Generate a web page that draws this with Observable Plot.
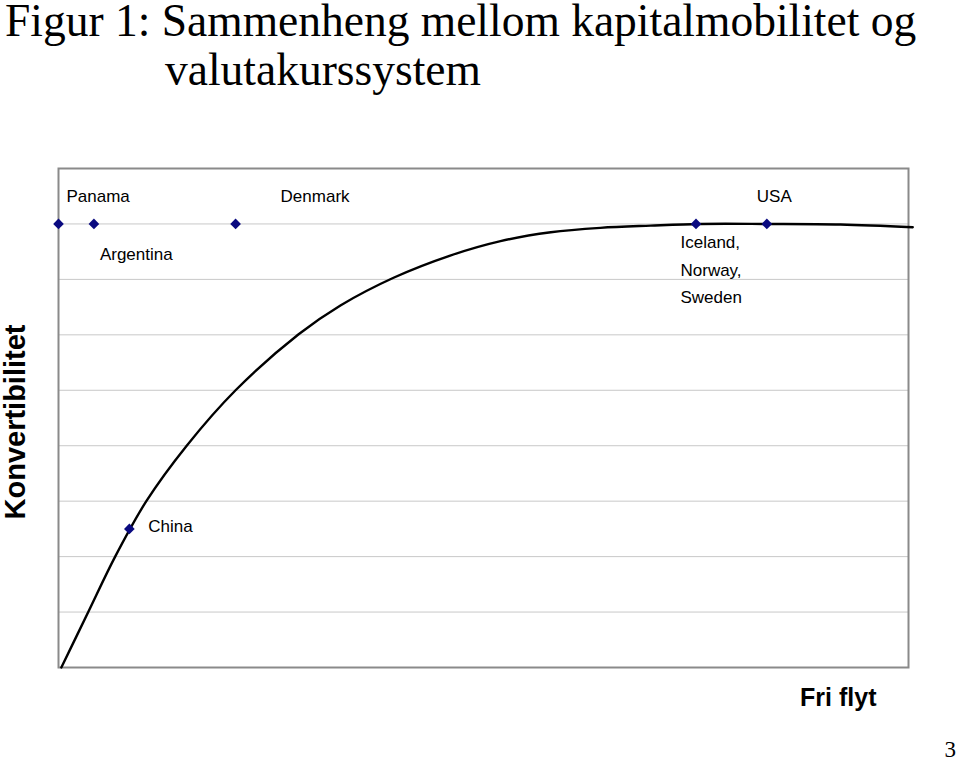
<!DOCTYPE html>
<html>
<head>
<meta charset="utf-8">
<script src="https://cdn.jsdelivr.net/npm/d3@7"></script>
<script src="https://cdn.jsdelivr.net/npm/@observablehq/plot@0.6"></script>
<style>
  html, body { margin: 0; padding: 0; background: #fff; }
  #page { position: relative; width: 960px; height: 762px; overflow: hidden; }
  #title { position: relative; height: 110px; font-family: "Liberation Serif", "Times New Roman", serif; font-size: 45.5px; color: #000; }
  #title .l1 { position: absolute; left: 5px; top: 1px; white-space: nowrap; line-height: 40px; }
  #title .l2 { position: absolute; left: 165px; top: 50px; white-space: nowrap; line-height: 40px; }
  #pagenum { position: absolute; right: 4px; bottom: 0px; font-family: "Liberation Serif", "Times New Roman", serif; font-size: 23px; line-height: 24px; }
  #chart svg { display: block; }
</style>
</head>
<body>
<div id="page">
  <div id="title"><div class="l1">Figur 1: Sammenheng mellom kapitalmobilitet og</div><div class="l2">valutakurssystem</div></div>
  <div id="chart"></div>
  <div id="pagenum">3</div>
</div>
<script>
// Countries (points)
const countries = ["Panama", "Argentina", "Denmark", "Iceland, Norway, Sweden", "USA", "China"];
const countryX = [0, 0.5, 2.5, 9, 10, 1];
const countryY = [8, 8, 8, 8, 8, 2.5];
const countryLabels = ["Panama", "Argentina", "Denmark", "Iceland,\nNorway,\nSweden", "USA", "China"];

// Hand-drawn curve
const curveX = [0.04, 0.42, 0.80, 1.24, 1.81, 2.50, 3.39, 3.98, 4.73, 5.53, 6.24, 6.95, 7.65, 8.36, 9.06, 10.0, 11.04, 12.06];
const curveY = [0, 1.0, 2.0, 3.0, 4.0, 5.0, 6.01, 6.53, 7.03, 7.43, 7.69, 7.85, 7.93, 7.97, 8.0, 8.0, 7.99, 7.94];

// Gridlines
const yTicks = [1, 2, 3, 4, 5, 6, 7, 8];
const xDomain = [0, 12];
const yDomain = [0, 9];

const xLabel = "Fri flyt";
const yLabel = "Konvertibilitet";

// label offsets (layout, in px)
const labelOffsets = [
  {dx: 8, dy: -31},
  {dx: 6, dy: 27},
  {dx: 45, dy: -31},
  {dx: -15.5, dy: 43},
  {dx: -10, dy: -31},
  {dx: 19, dy: -6}
];

const points = countries.map((c, i) => ({country: c, x: countryX[i], y: countryY[i], label: countryLabels[i]}));
const curve = curveX.map((x, i) => ({x, y: curveY[i]}));

const font = "'Liberation Sans', Arial, sans-serif";

const labelMarks = points.map((p, i) => Plot.text([p], {
  x: "x", y: "y", text: "label",
  dx: labelOffsets[i].dx, dy: labelOffsets[i].dy,
  textAnchor: "start", lineAnchor: "middle", lineHeight: 1.62,
  fontSize: 17, fill: "#000"
}));

const chart = Plot.plot({
  width: 960,
  height: 652,
  marginTop: 58,
  marginBottom: 95,
  marginLeft: 58,
  marginRight: 52,
  style: {fontFamily: font, background: "#fff", overflow: "visible"},
  x: {domain: xDomain, axis: null},
  y: {domain: yDomain, axis: null},
  marks: [
    Plot.ruleY(yTicks, {stroke: "#c8c8c8", strokeWidth: 1}),
    Plot.frame({stroke: "#8a8a8a", strokeWidth: 2}),
    Plot.line(curve, {x: "x", y: "y", curve: "catmull-rom", stroke: "#000", strokeWidth: 2.4}),
    Plot.dot(points, {x: "x", y: "y", symbol: "diamond2", r: 4.8, fill: "#0a0a80", stroke: "none"}),
    ...labelMarks,
    Plot.text([yLabel], {frameAnchor: "left", dx: -43, dy: 4, rotate: -90, fontSize: 29, fontWeight: "bold", fill: "#000", textAnchor: "middle"}),
    Plot.text([xLabel], {frameAnchor: "bottom-right", dx: -32, dy: 38, fontSize: 25, fontWeight: "bold", fill: "#000", textAnchor: "end"})
  ]
});
document.getElementById("chart").appendChild(chart);
</script>
</body>
</html>
